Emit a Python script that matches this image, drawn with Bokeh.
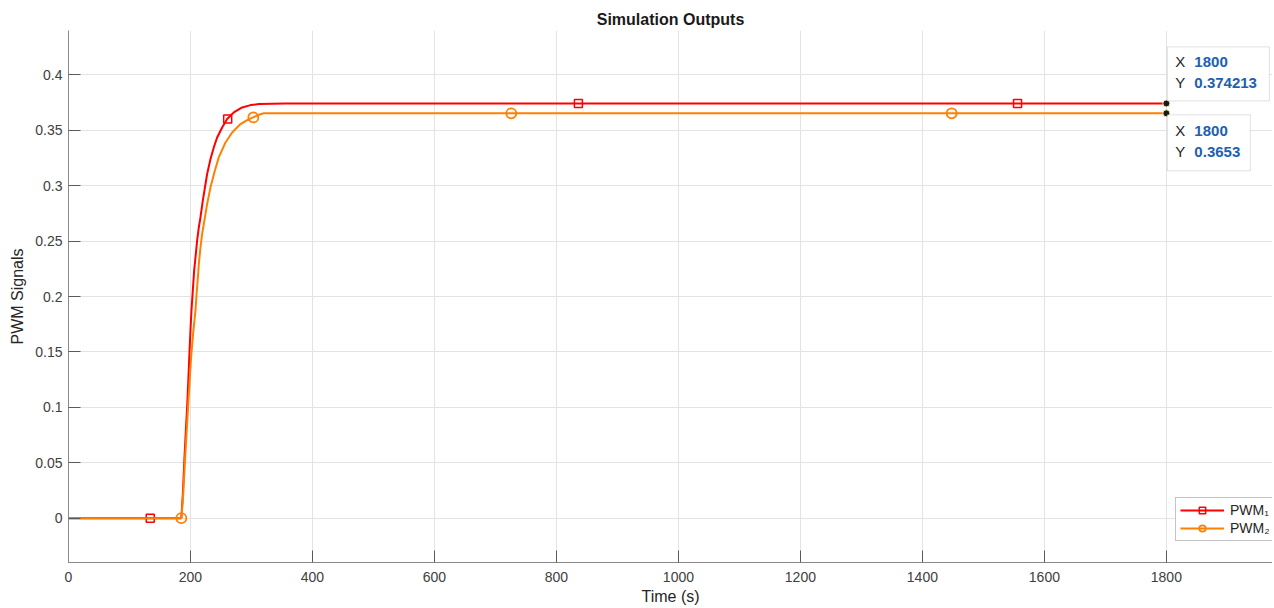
from bokeh.plotting import figure
from bokeh.models import (Range1d, FixedTicker, CustomJSTickFormatter, Legend, LegendItem,
                          Label, BoxAnnotation)
from bokeh.embed import file_html
from bokeh.resources import INLINE

# ---------------- data ----------------
pwm1_t = [0, 185, 187.5, 190, 192.3, 194.5, 196.5, 198.4, 200, 201.6, 203.8, 206.0, 208.2, 210.9,
          213.7, 216.4, 220.2, 224.6, 227.3, 232.8, 238.2, 243.7, 251.9, 260.1, 271.0, 284.7,
          298.4, 312.0, 333.9, 355.7, 400, 1800]
pwm1_v = [0, 0, 0.022, 0.053, 0.078, 0.100, 0.125, 0.150, 0.170, 0.1874, 0.2054, 0.2234, 0.2354,
          0.2505, 0.2625, 0.2715, 0.2865, 0.3015, 0.3105, 0.3240, 0.3345, 0.3435, 0.3525, 0.3601,
          0.3661, 0.3706, 0.3727, 0.3736, 0.3740, 0.37415, 0.37421, 0.374213]

pwm2_t = [0, 185, 187.5, 191, 196, 201, 204.6, 208.2, 210.4, 212.6, 213.7, 216.4, 219.1, 221.9,
          227.3, 232.8, 239.9, 246.4, 257.4, 268.3, 282.0, 292.9, 302.7, 312.0, 320.2, 1800]
pwm2_v = [0, 0, 0.016, 0.052, 0.100, 0.145, 0.168, 0.1874, 0.2054, 0.2204, 0.2294, 0.2444,
          0.2565, 0.2655, 0.2835, 0.2985, 0.3135, 0.3255, 0.3390, 0.3480, 0.3556, 0.3592,
          0.3616, 0.3640, 0.3653, 0.3653]

pwm1_mk_t = [134, 261, 836, 1556]
pwm1_mk_v = [0, 0.3601, 0.374213, 0.374213]
pwm2_mk_t = [185, 303, 726, 1448]
pwm2_mk_v = [0, 0.3616, 0.3653, 0.3653]

tip_x = [1800, 1800]
tip_y = [0.374213, 0.3653]
tip_x_text = ["1800", "1800"]
tip_y_text = ["0.374213", "0.3653"]

x_ticks = [0, 200, 400, 600, 800, 1000, 1200, 1400, 1600, 1800]
y_ticks = [0, 0.05, 0.1, 0.15, 0.2, 0.25, 0.3, 0.35, 0.4]
series_names = ["PWM\u2081", "PWM\u2082"]

# ---------------- figure ----------------
X0, X1 = 0, 1974
Y0, Y1 = -0.04, 0.44
W, H = 1272, 608
ML, MR, MT, MB = 68, 0, 30, 46
FONT = "Liberation Sans"

p = figure(width=W, height=H, output_backend="svg", toolbar_location=None,
           x_range=Range1d(X0, X1), y_range=Range1d(Y0, Y1),
           min_border_left=ML, min_border_right=MR, min_border_top=MT, min_border_bottom=MB,
           title="Simulation Outputs")
p.outline_line_color = None
p.background_fill_color = "white"
p.border_fill_color = "white"

p.title.align = "center"
p.title.text_font = FONT
p.title.text_font_size = "16px"
p.title.text_font_style = "bold"
p.title.text_color = "#1a1a1a"
p.title.standoff = 6

frame_w = W - ML - MR
frame_h = H - MT - MB
px_x = frame_w / (X1 - X0)
px_y = frame_h / (Y1 - Y0)

p.xaxis.ticker = FixedTicker(ticks=x_ticks)
p.yaxis.ticker = FixedTicker(ticks=y_ticks)
p.yaxis.formatter = CustomJSTickFormatter(
    code="return tick.toFixed(2).replace(/0+$/,'').replace(/\\.$/,'');")

for ax in (p.xaxis[0], p.yaxis[0]):
    ax.axis_line_color = "#8a8a8a"
    ax.major_tick_line_color = "#5a5a5a"
    ax.major_tick_in = 12
    ax.major_tick_out = 0
    ax.minor_tick_line_color = None
    ax.major_label_text_font = FONT
    ax.major_label_text_font_size = "14px"
    ax.major_label_text_color = "#404040"
    ax.axis_label_text_font = FONT
    ax.axis_label_text_font_size = "16px"
    ax.axis_label_text_font_style = "normal"
    ax.axis_label_text_color = "#262626"

p.xaxis.axis_label = "Time (s)"
p.yaxis.axis_label = "PWM Signals"
p.xaxis.major_label_standoff = 9
p.xaxis.axis_label_standoff = 3
p.yaxis.major_label_standoff = 6
p.yaxis.axis_label_standoff = 6

p.xgrid.grid_line_color = "#e3e3e3"
p.ygrid.grid_line_color = "#e3e3e3"

RED = "#ff0000"
ORANGE = "#ff8000"

l1 = p.line(pwm1_t, pwm1_v, line_color=RED, line_width=2)
m1 = p.scatter(pwm1_mk_t, pwm1_mk_v, marker="square", size=8, fill_color=None,
               line_color=RED, line_width=1.5)
l2 = p.line(pwm2_t, pwm2_v, line_color=ORANGE, line_width=2)
m2 = p.scatter(pwm2_mk_t, pwm2_mk_v, marker="circle", size=10, fill_color=None,
               line_color=ORANGE, line_width=1.8)

# data tips
p.scatter(tip_x, tip_y, marker="circle", size=7, fill_color="#1a1a1a",
          line_color="#f2eab0", line_width=1)

# box extents in pixel offsets from each tip point (x right, y up)
box_px = [(1, 103, 56.5, 2.5), (1, 84, -1.5, -57.5)]   # left, right, top, bottom
row_px = [(41.5, 20.5), (-17.5, -38.5)]                # y offsets of X and Y rows
for i in range(2):
    bl, br, bt, bb = box_px[i]
    p.add_layout(BoxAnnotation(left=tip_x[i] + bl / px_x, right=tip_x[i] + br / px_x,
                               top=tip_y[i] + bt / px_y, bottom=tip_y[i] + bb / px_y,
                               fill_color="white", fill_alpha=1.0,
                               line_color="#9a9a9a", line_width=1))
    ry_x, ry_y = row_px[i]
    for name, off, val in (("X", ry_x, tip_x_text[i]), ("Y", ry_y, tip_y_text[i])):
        p.add_layout(Label(x=tip_x[i], y=tip_y[i], x_offset=9, y_offset=off, text=name,
                           text_font=FONT, text_font_size="15px", text_color="#262626",
                           text_baseline="middle", text_align="left"))
        p.add_layout(Label(x=tip_x[i], y=tip_y[i], x_offset=28, y_offset=off, text=val,
                           text_font=FONT, text_font_size="15px", text_font_style="bold",
                           text_color="#2060b0", text_baseline="middle", text_align="left"))

legend = Legend(items=[LegendItem(label=series_names[0], renderers=[l1, m1]),
                       LegendItem(label=series_names[1], renderers=[l2, m2])],
                location=(1107, 21))
legend.label_text_font = FONT
legend.label_text_font_size = "14px"
legend.label_text_color = "#262626"
legend.glyph_width = 44
legend.glyph_height = 16
legend.label_height = 16
legend.label_standoff = 6
legend.spacing = 2
legend.padding = 4
legend.margin = 0
legend.border_line_color = "#8a8a8a"
legend.background_fill_alpha = 1.0
p.add_layout(legend)

open("out.html", "w").write(file_html(p, INLINE))
